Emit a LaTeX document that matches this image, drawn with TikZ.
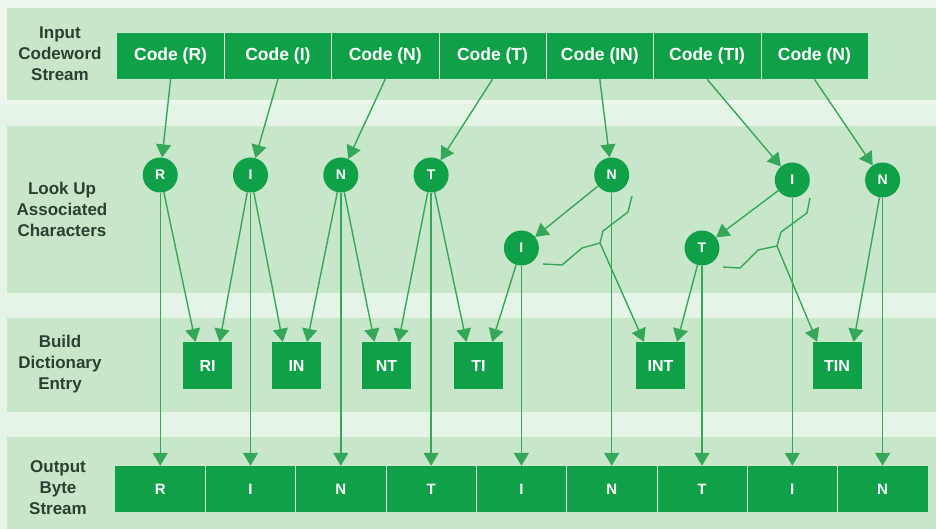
\documentclass[tikz,border=0pt]{standalone}
\usepackage{fontspec}
\setmainfont{Liberation Sans}
\usetikzlibrary{arrows.meta}
\definecolor{hpgreen}{RGB}{16,160,72}
\definecolor{linegreen}{RGB}{52,168,88}
\definecolor{bandgreen}{RGB}{200,230,201}
\definecolor{paper}{RGB}{230,244,231}
\definecolor{labelgray}{RGB}{44,64,50}
\begin{document}
\begin{tikzpicture}[x=1pt,y=-1pt,
  side/.style={text=labelgray,align=center,font=\bfseries\fontsize{17}{21}\selectfont},
  codecell/.style={fill=hpgreen,text=white,inner sep=0pt,minimum width=107.3,minimum height=46,font=\bfseries\fontsize{17.5}{18}\selectfont},
  outcell/.style={fill=hpgreen,text=white,inner sep=0pt,minimum width=90.3,minimum height=46,font=\bfseries\fontsize{15}{15}\selectfont},
  char/.style={circle,fill=hpgreen,text=white,inner sep=0pt,minimum size=35,font=\bfseries\fontsize{14}{14}\selectfont},
  entry/.style={fill=hpgreen,text=white,inner sep=0pt,minimum width=49,minimum height=47,font=\bfseries\fontsize{16}{16}\selectfont},
  divider/.style={draw=bandgreen!50!white,line width=0.9pt},
  flow/.style={draw=linegreen,line width=1.4pt,-{Triangle[width=15pt,length=13pt]}},
  link/.style={draw=linegreen,line width=1.4pt}]
\useasboundingbox (0,0) rectangle (936,529);
\fill[paper!70!white] (0,0) rectangle (936,529);
\fill[paper] (0,104) rectangle (936,529);
\fill[bandgreen] (7,8) rectangle (936,100);
\fill[bandgreen] (7,126) rectangle (936,293);
\fill[bandgreen] (7,318) rectangle (936,412);
\fill[bandgreen] (7,437) rectangle (936,529);

\node[side] (lbl-input) at (60,54) {Input\\Codeword\\Stream};
\node[side] (lbl-look) at (62,209) {Look Up\\Associated\\Characters};
\node[side] (lbl-build) at (60,364) {Build\\Dictionary\\Entry};
\node[side] (lbl-output) at (58,488) {Output\\Byte\\Stream};

% input codewords
\node[codecell] (code-R) at (170.6,56) {Code (R)};
\node[codecell] (code-I) at (277.9,56) {Code (I)};
\node[codecell] (code-N) at (385.2,56) {Code (N)};
\node[codecell] (code-T) at (492.5,56) {Code (T)};
\node[codecell] (code-IN) at (599.8,56) {Code (IN)};
\node[codecell] (code-TI) at (707.1,56) {Code (TI)};
\node[codecell] (code-N2) at (814.4,56) {Code (N)};
\foreach \c in {R,I,N,T,IN,TI}
  \draw[divider] (code-\c.north east) -- (code-\c.south east);

% output bytes
\node[outcell] (out-R) at (160.2,489) {R};
\node[outcell] (out-I) at (250.5,489) {I};
\node[outcell] (out-N) at (340.8,489) {N};
\node[outcell] (out-T) at (431.1,489) {T};
\node[outcell] (out-I2) at (521.4,489) {I};
\node[outcell] (out-N2) at (611.7,489) {N};
\node[outcell] (out-T2) at (702.0,489) {T};
\node[outcell] (out-I3) at (792.3,489) {I};
\node[outcell] (out-N3) at (882.6,489) {N};
\foreach \c in {R,I,N,T,I2,N2,T2,I3}
  \draw[divider] (out-\c.north east) -- (out-\c.south east);

% associated characters
\node[char] (char-R) at (160.2,175) {R};
\node[char] (char-I) at (250.5,175) {I};
\node[char] (char-N) at (340.8,175) {N};
\node[char] (char-T) at (431.1,175) {T};
\node[char] (char-I2) at (521.4,248) {I};
\node[char] (char-N2) at (611.7,175) {N};
\node[char] (char-T2) at (702.0,248) {T};
\node[char] (char-I3) at (792.3,180) {I};
\node[char] (char-N3) at (882.6,180) {N};

% dictionary entries
\node[entry] (dict-RI) at (207.5,365.5) {RI};
\node[entry] (dict-IN) at (296.5,365.5) {IN};
\node[entry] (dict-NT) at (386.5,365.5) {NT};
\node[entry] (dict-TI) at (478.5,365.5) {TI};
\node[entry] (dict-INT) at (660.5,365.5) {INT};
\node[entry] (dict-TIN) at (837,365.5) {TIN};

\coordinate (join-IN) at (600,243);
\coordinate (join-TI) at (777,246);

\draw[flow] (code-R.south) -- (char-R);
\draw[flow] (code-I.south) -- (char-I);
\draw[flow] (code-N.south) -- (char-N);
\draw[flow] (code-T.south) -- (char-T);
\draw[flow] (code-IN.south) -- (char-N2);
\draw[flow] (code-TI.south) -- (char-I3);
\draw[flow] (code-N2.south) -- (char-N3);
\draw[flow] (char-N2) -- (char-I2);
\draw[flow] (char-I3) -- (char-T2);

\draw[flow] (char-R) -- (out-R.north);
\draw[flow] (char-I) -- (out-I.north);
\draw[flow] (char-N) -- (out-N.north);
\draw[flow] (char-T) -- (out-T.north);
\draw[flow] (char-I2) -- (out-I2.north);
\draw[flow] (char-N2) -- (out-N2.north);
\draw[flow] (char-T2) -- (out-T2.north);
\draw[flow] (char-I3) -- (out-I3.north);
\draw[flow] (char-N3) -- (out-N3.north);

\draw[flow] (char-R) -- (dict-RI.117);
\draw[flow] (char-I) -- (dict-RI.63);
\draw[flow] (char-I) -- (dict-IN.120);
\draw[flow] (char-N) -- (dict-IN.66);
\draw[flow] (char-N) -- (dict-NT.117);
\draw[flow] (char-T) -- (dict-NT.63);
\draw[flow] (char-T) -- (dict-TI.117);
\draw[flow] (char-I2) -- (dict-TI.60);
\draw[flow] (join-IN) -- (dict-INT.125);
\draw[flow] (char-T2) -- (dict-INT.55);
\draw[flow] (join-TI) -- (dict-TIN.130);
\draw[flow] (char-N3) -- (dict-TIN.55);

% brackets
\draw[link] (543,264) -- (562,265) -- (582,248) -- (join-IN) -- (603,231) -- (628,212) -- (632,196);
\draw[link] (723,267) -- (740,268) -- (758,250) -- (join-TI) -- (781,232) -- (807,213) -- (810,198);
\end{tikzpicture}
\end{document}
